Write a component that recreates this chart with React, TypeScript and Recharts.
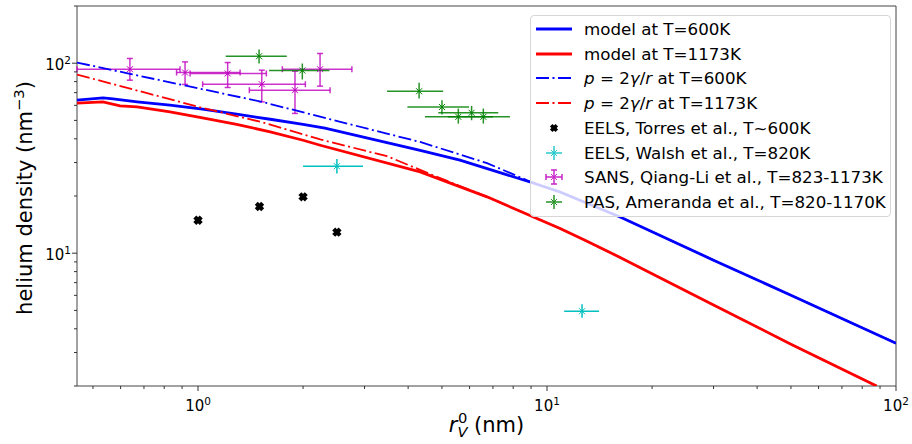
import React from 'react';
import { ScatterChart, Scatter, XAxis, YAxis, ErrorBar, ReferenceArea } from 'recharts';

// colours (matplotlib b, r, c, m, g)
const BLUE = '#0000ff';
const RED = '#ff0000';
const CYAN = '#00bfbf';
const MAGENTA = '#bf00bf';
const GREEN = '#008000';
const FONT = '"DejaVu Sans", sans-serif';

// axis ticks (log-log)
const X_TICKS = [0.5, 0.6, 0.7, 0.8, 0.9, 1, 2, 3, 4, 5, 6, 7, 8, 9, 10, 20, 30, 40, 50, 60, 70, 80, 90, 100];
const Y_TICKS = [2, 3, 4, 5, 6, 7, 8, 9, 10, 20, 30, 40, 50, 60, 70, 80, 90, 100, 200];

// model curves: [r_V^0 (nm), helium density (nm^-3)]
const MODEL_600: [number, number][] = [
  [0.45, 63.9], [0.534, 65.7], [0.571, 64.9], [0.669, 62.6], [0.831, 60.1], [1.03, 57.3],
  [1.29, 53.9], [1.61, 50.7], [2.0, 47.7], [2.31, 45.5], [4.33, 34.8], [5.63, 30.9],
  [8.94, 23.7], [10.9, 21.0], [16.2, 15.5], [30, 9.19], [50, 6.01], [100, 3.36],
];
const MODEL_1173: [number, number][] = [
  [0.45, 61.6], [0.534, 62.6], [0.598, 59.6], [0.669, 58.9], [0.831, 55.4], [1.03, 51.5],
  [1.29, 47.7], [1.61, 43.5], [2.0, 39.3], [2.24, 37.0], [4.33, 26.8], [6.73, 19.8],
  [10.9, 13.5], [12.85, 11.7], [16.2, 9.5], [30, 5.34], [50, 3.32], [88, 2.0],
];
// p = 2γ/r curves
const LAPLACE_600: [number, number][] = [
  [0.45, 100.8], [0.638, 87.9], [1.0, 73.8], [1.525, 62.6], [2.39, 50.7], [4.33, 38.5],
  [6.73, 29.8], [8.77, 24.2], [10.9, 21.0], [16.2, 15.5], [30, 9.19], [50, 6.01], [100, 3.36],
];
const LAPLACE_1173: [number, number][] = [
  [0.45, 87.2], [1.0, 59.0], [1.525, 48.9], [2.24, 39.7], [3.48, 32.4], [4.84, 25.2],
  [6.73, 19.8], [10.9, 13.5], [16.2, 9.5], [30, 5.34], [50, 3.32], [88, 2.0],
];

// experiments
const TORRES_R = [1.0, 1.5, 2.0, 2.5];
const TORRES_N = [14.9, 17.6, 19.8, 12.9];

// [r, n, rLow, rHigh, nLow, nHigh]
const WALSH: number[][] = [
  [2.5, 28.7, 2.0, 2.97, 26.3, 31.3],
  [12.6, 4.95, 11.2, 14.1, 4.57, 5.38],
];
const SANS: number[][] = [
  [0.638, 93.0, 0.45, 0.888, 81.4, 105.9],
  [0.918, 89.3, 0.868, 1.32, 77.3, 101.6],
  [1.216, 88.3, 0.949, 1.57, 74.5, 100.8],
  [1.523, 77.5, 1.031, 2.03, 62.6, 91.9],
  [1.896, 72.1, 1.403, 2.39, 54.4, 90.8],
  [2.237, 93.0, 1.744, 2.76, 75.7, 112.5],
];
const PAS: number[][] = [
  [1.496, 108.8, 1.2, 1.796, 99.6, 118.1],
  [1.99, 91.5, 1.598, 2.38, 82.1, 99.6],
  [4.3, 71.2, 3.48, 5.04, 65.2, 78.8],
  [5.0, 58.8, 3.98, 5.98, 53.7, 63.9],
  [5.57, 52.2, 4.47, 7.0, 48.1, 57.7],
  [6.08, 54.8, 4.88, 7.25, 50.1, 59.6],
  [6.57, 52.2, 5.2, 7.83, 48.1, 57.7],
];

const toPoints = (pairs: [number, number][]) => pairs.map(([x, y]) => ({ x, y }));
const toErr = (rows: number[][]) =>
  rows.map(([x, y, xl, xh, yl, yh]) => ({ x, y, ex: [x - xl, xh - x], ey: [y - yl, yh - y] }));
const torres = TORRES_R.map((x, i) => ({ x, y: TORRES_N[i] }));

const DASHDOT = '13 3.5 2 3.5';

const NoDot = () => <g />;

const BigX = (props: any) => {
  const { cx, cy } = props;
  const s = 3.2;
  return (
    <g>
      <line x1={cx - s} y1={cy - s} x2={cx + s} y2={cy + s} stroke="#000" strokeWidth={4.2} />
      <line x1={cx - s} y1={cy + s} x2={cx + s} y2={cy - s} stroke="#000" strokeWidth={4.2} />
    </g>
  );
};

const smallX = (color: string) => (props: any) => {
  const { cx, cy } = props;
  const s = 3;
  return (
    <g>
      <line x1={cx - s} y1={cy - s} x2={cx + s} y2={cy + s} stroke={color} strokeWidth={1} />
      <line x1={cx - s} y1={cy + s} x2={cx + s} y2={cy - s} stroke={color} strokeWidth={1} />
    </g>
  );
};

const isDecade = (v: number) => Math.abs(Math.log10(v) - Math.round(Math.log10(v))) < 1e-6;

const XTick = (props: any) => {
  const { x, y, payload } = props;
  const v = payload.value;
  const major = isDecade(v);
  return (
    <g>
      <line x1={x} x2={x} y1={y} y2={y + (major ? 5 : 3)} stroke="#333" strokeWidth={1} />
      {major && (
        <text x={x} y={y + 25} textAnchor="middle" fontSize={15} fontFamily={FONT} fill="#000">
          10<tspan dy={-6} fontSize={10.5}>{Math.round(Math.log10(v))}</tspan>
        </text>
      )}
    </g>
  );
};

const YTick = (props: any) => {
  const { x, y, payload } = props;
  const v = payload.value;
  const major = isDecade(v);
  return (
    <g>
      <line x1={x} x2={x - (major ? 5 : 3)} y1={y} y2={y} stroke="#333" strokeWidth={1} />
      {major && (
        <text x={x - 6} y={y + 7} textAnchor="end" fontSize={15} fontFamily={FONT} fill="#000">
          10<tspan dy={-6} fontSize={10.5}>{Math.round(Math.log10(v))}</tspan>
        </text>
      )}
    </g>
  );
};

const XLabel = (props: any) => {
  const { viewBox } = props;
  const cx = viewBox.x + viewBox.width / 2;
  const base = 432;
  return (
    <text x={cx} y={base} textAnchor="middle" fontSize={21} fontFamily={FONT} fill="#000">
      <tspan fontStyle="italic">r</tspan>
      <tspan fontStyle="italic" fontSize={14.7} dy={4.5}>V</tspan>
      <tspan fontSize={14.7} dx={-9.6} dy={-13.5}>0</tspan>
      <tspan dy={9}> (nm)</tspan>
    </text>
  );
};

const YLabel = () => {
  const bx = 32;
  const cy = 198;
  return (
    <text
      x={bx}
      y={cy}
      transform={`rotate(-90, ${bx}, ${cy})`}
      textAnchor="middle"
      fontSize={21}
      fontFamily={FONT}
      fill="#000"
    >
      helium density (nm<tspan dy={-8} fontSize={14.7}>−3</tspan>
      <tspan dy={8}>)</tspan>
    </text>
  );
};

type LegendKind = 'solid' | 'dashdot' | 'bigx' | 'err' | 'errcap';

const LEGEND_ITEMS: { kind: LegendKind; color: string; label: React.ReactNode }[] = [
  { kind: 'solid', color: BLUE, label: 'model at T=600K' },
  { kind: 'solid', color: RED, label: 'model at T=1173K' },
  {
    kind: 'dashdot',
    color: BLUE,
    label: (
      <>
        <i>p</i> = 2<i>γ</i>/<i>r</i> at T=600K
      </>
    ),
  },
  {
    kind: 'dashdot',
    color: RED,
    label: (
      <>
        <i>p</i> = 2<i>γ</i>/<i>r</i> at T=1173K
      </>
    ),
  },
  { kind: 'bigx', color: '#000', label: 'EELS, Torres et al., T~600K' },
  { kind: 'err', color: CYAN, label: 'EELS, Walsh et al., T=820K' },
  { kind: 'errcap', color: MAGENTA, label: 'SANS, Qiang-Li et al., T=823-1173K' },
  { kind: 'err', color: GREEN, label: 'PAS, Ameranda et al., T=820-1170K' },
];

const Handle = ({ kind, color }: { kind: LegendKind; color: string }) => {
  const c = 23;
  const m = 12;
  if (kind === 'solid') return <line x1={5} x2={41} y1={m} y2={m} stroke={color} strokeWidth={2.8} />;
  if (kind === 'dashdot')
    return <line x1={5} x2={41} y1={m} y2={m} stroke={color} strokeWidth={1.8} strokeDasharray={DASHDOT} />;
  if (kind === 'bigx') {
    const s = 2.8;
    return (
      <g>
        <line x1={c - s} y1={m - s} x2={c + s} y2={m + s} stroke="#000" strokeWidth={3.6} />
        <line x1={c - s} y1={m + s} x2={c + s} y2={m - s} stroke="#000" strokeWidth={3.6} />
      </g>
    );
  }
  const cap = kind === 'errcap';
  return (
    <g stroke={color} strokeWidth={1.5} opacity={0.85}>
      <line x1={c - 8} x2={c + 8} y1={m} y2={m} />
      <line x1={c} x2={c} y1={m - 7} y2={m + 7} />
      {cap && <line x1={c - 8} x2={c - 8} y1={m - 3} y2={m + 3} />}
      {cap && <line x1={c + 8} x2={c + 8} y1={m - 3} y2={m + 3} />}
      {cap && <line x1={c - 3} x2={c + 3} y1={m - 7} y2={m - 7} />}
      {cap && <line x1={c - 3} x2={c + 3} y1={m + 7} y2={m + 7} />}
      <line x1={c - 3} y1={m - 3} x2={c + 3} y2={m + 3} strokeWidth={1} />
      <line x1={c - 3} y1={m + 3} x2={c + 3} y2={m - 3} strokeWidth={1} />
    </g>
  );
};

const LegendBox = () => (
  <div
    style={{
      position: 'absolute',
      left: 530,
      top: 15,
      width: 361,
      height: 202,
      background: 'rgba(255,255,255,0.8)',
      border: '1px solid #d6d6d6',
      borderRadius: 4,
      boxSizing: 'border-box',
      fontFamily: FONT,
      fontSize: 16.7,
      color: '#000',
    }}
  >
    {LEGEND_ITEMS.map((item, i) => (
      <div
        key={i}
        style={{
          position: 'absolute',
          left: 0,
          top: 14 + 24.7 * i - 12 - 1,
          height: 24,
          display: 'flex',
          alignItems: 'center',
          whiteSpace: 'nowrap',
        }}
      >
        <svg width={46} height={24} style={{ display: 'block' }}>
          <Handle kind={item.kind} color={item.color} />
        </svg>
        <span style={{ marginLeft: 7, lineHeight: '24px' }}>{item.label}</span>
      </div>
    ))}
  </div>
);

export default function App() {
  return (
    <div style={{ position: 'absolute', left: 0, top: 0, width: 912, height: 444, background: '#fff' }}>
      <ScatterChart width={912} height={444} margin={{ top: 6, right: 16, bottom: 0, left: 0 }}>
        <XAxis
          type="number"
          dataKey="x"
          scale="log"
          domain={[0.45, 100]}
          allowDataOverflow
          ticks={X_TICKS}
          interval={0}
          tick={<XTick />}
          tickLine={false}
          axisLine={false}
          tickSize={0}
          tickMargin={0}
          height={58}
          label={(p: any) => <XLabel {...p} />}
        />
        <YAxis
          type="number"
          dataKey="y"
          scale="log"
          domain={[2, 200]}
          allowDataOverflow
          ticks={Y_TICKS}
          interval={0}
          tick={<YTick />}
          tickLine={false}
          axisLine={false}
          tickSize={0}
          tickMargin={0}
          width={77}
          label={() => <YLabel />}
        />

        <Scatter
          data={toPoints(MODEL_600)}
          fill={BLUE}
          line={{ stroke: BLUE, strokeWidth: 2.8 }}
          shape={NoDot}
          isAnimationActive={false}
        />
        <Scatter
          data={toPoints(MODEL_1173)}
          fill={RED}
          line={{ stroke: RED, strokeWidth: 2.8 }}
          shape={NoDot}
          isAnimationActive={false}
        />
        <Scatter
          data={toPoints(LAPLACE_600)}
          fill={BLUE}
          line={{ stroke: BLUE, strokeWidth: 1.8, strokeDasharray: DASHDOT }}
          shape={NoDot}
          isAnimationActive={false}
        />
        <Scatter
          data={toPoints(LAPLACE_1173)}
          fill={RED}
          line={{ stroke: RED, strokeWidth: 1.8, strokeDasharray: DASHDOT }}
          shape={NoDot}
          isAnimationActive={false}
        />

        <Scatter data={torres} fill="#000" shape={BigX} isAnimationActive={false} />

        <Scatter data={toErr(WALSH)} fill={CYAN} shape={smallX(CYAN)} isAnimationActive={false}>
          <ErrorBar dataKey="ex" direction="x" width={0} stroke={CYAN} strokeWidth={1.5} />
          <ErrorBar dataKey="ey" direction="y" width={0} stroke={CYAN} strokeWidth={1.5} />
        </Scatter>
        <Scatter data={toErr(SANS)} fill={MAGENTA} shape={smallX(MAGENTA)} isAnimationActive={false}>
          <ErrorBar dataKey="ex" direction="x" width={3} stroke={MAGENTA} strokeWidth={1.5} strokeOpacity={0.8} />
          <ErrorBar dataKey="ey" direction="y" width={3} stroke={MAGENTA} strokeWidth={1.5} strokeOpacity={0.8} />
        </Scatter>
        <Scatter data={toErr(PAS)} fill={GREEN} shape={smallX(GREEN)} isAnimationActive={false}>
          <ErrorBar dataKey="ex" direction="x" width={0} stroke={GREEN} strokeWidth={1.5} strokeOpacity={0.85} />
          <ErrorBar dataKey="ey" direction="y" width={0} stroke={GREEN} strokeWidth={1.5} strokeOpacity={0.85} />
        </Scatter>

        <ReferenceArea x1={0.45} x2={100} y1={2} y2={200} fill="none" stroke="#444" strokeWidth={1} ifOverflow="visible" />
      </ScatterChart>
      <LegendBox />
    </div>
  );
}
